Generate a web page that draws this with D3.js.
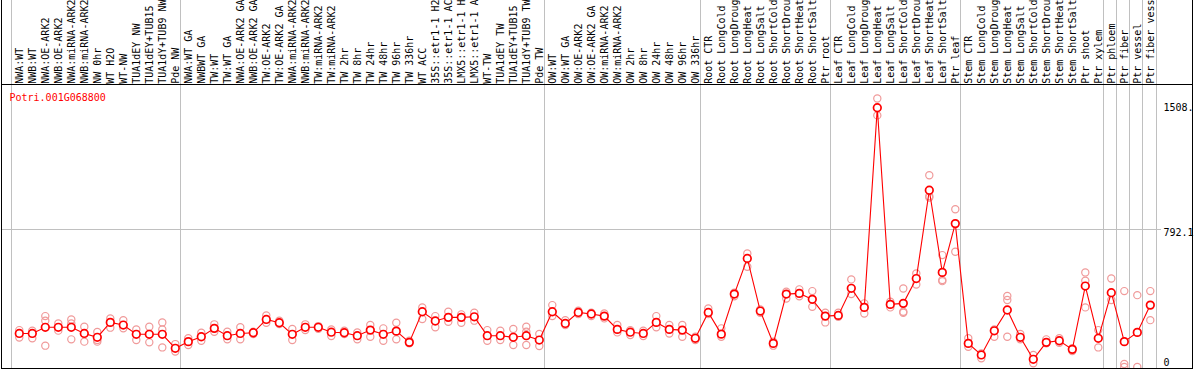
<!DOCTYPE html>
<html><head><meta charset="utf-8">
<script src="https://cdn.jsdelivr.net/npm/d3@7"></script>
<style>body{margin:0;background:#fff}svg{display:block}text{font-family:"DejaVu Sans Mono",monospace;font-size:10px}</style>
</head><body>
<svg id="c" width="1194" height="370"></svg>
<script>
const geneId = "Potri.001G068800";
const categories = [
"NWA:WT","NWB:WT","NWA:OE-ARK2","NWB:OE-ARK2","NWA:miRNA-ARK2","NWB:miRNA-ARK2","NW 0hr","WT H2O","WT-NW","TUA1dEY NW","TUA1dEY+TUB15","TUA1dY+TUB9 NW","Pde NW",
"NWA:WT GA","NWBWT GA","TW:WT","TW:WT GA","NWA:OE-ARK2 GA","NWB:OE-ARK2 GA","TW:OE-ARK2","TW:OE-ARK2 GA","NWA:miRNA-ARK2","NWB:miRNA-ARK2","TW:miRNA-ARK2","TW:miRNA-ARK2","TW 2hr","TW 8hr","TW 24hr","TW 48hr","TW 96hr","TW 336hr","WT ACC","35S::etr1-1 H2","35S::etr1-1 AC","LMX5::etr1-1 H","LMX5::etr1-1 A","WT-TW","TUA1dEY TW","TUA1dEY+TUB15","TUA1dY+TUB9 TW","Pde TW",
"OW:WT","OW:WT GA","OW:OE-ARK2","OW:OE-ARK2 GA","OW:miRNA-ARK2","OW:miRNA-ARK2","OW 2hr","OW 8hr","OW 24hr","OW 48hr","OW 96hr","OW 336hr",
"Root CTR","Root LongCold","Root LongDroug","Root LongHeat","Root LongSalt","Root ShortCold","Root ShortDrou","Root ShortHeat","Root ShortSalt","Ptr root",
"Leaf CTR","Leaf LongCold","Leaf LongDroug","Leaf LongHeat","Leaf LongSalt","Leaf ShortCold","Leaf ShortDrou","Leaf ShortHeat","Leaf ShortSalt","Ptr leaf",
"Stem CTR","Stem LongCold","Stem LongDroug","Stem LongHeat","Stem LongSalt","Stem ShortCold","Stem ShortDrou","Stem ShortHeat","Stem ShortSalt","Ptr shoot","Ptr xylem",
"Ptr phloem","Ptr fiber","Ptr vessel","Ptr fiber vess"];
const groupBreaks = [0,13,41,53,63,73,84,85,86,87,88];
const means = [192,192,227,227,227,192,170,255,240,187,187,187,107,
145,173,221,179,192,196,272,253,187,227,227,199,196,179,211,187,205,141,316,263,284,284,287,179,179,170,179,154,
316,249,312,303,291,215,199,192,255,215,211,164,
312,188,417,621,320,135,417,421,387,291,
295,450,341,1483,358,364,506,1011,541,820,
135,69,207,326,170,44,141,150,101,463,164,
425,145,198,354];
const repHigh = [211,208,291,249,272,230,200,278,268,215,230,255,131,
164,196,244,202,227,202,295,265,217,244,234,215,208,198,240,221,253,150,341,291,316,301,310,211,208,217,230,189,
354,268,322,310,306,240,211,208,291,240,240,173,
335,221,425,649,329,145,430,444,434,310,
310,501,364,1536,373,449,535,1097,640,902,
164,78,215,406,189,69,158,164,107,541,211,
506,434,411,434];
const repLow = [169,164,122,208,158,145,145,225,221,154,141,112,88,
126,150,202,158,158,189,253,246,154,211,219,177,189,158,173,150,158,135,274,227,259,253,265,150,154,126,126,120,
291,240,303,291,278,198,183,177,227,192,173,154,
303,173,405,573,310,122,392,405,345,255,
287,417,306,1439,341,316,472,969,491,659,
116,50,173,173,158,21,135,139,91,341,112,
383,17,0,268];
const repExtra = [null,null,265,null,249,null,154,null,null,null,null,215,null,
null,null,null,null,null,null,null,null,null,null,null,null,null,null,null,null,null,null,null,null,null,null,null,null,null,null,202,null,
null,null,null,null,null,null,null,null,null,null,null,null,
null,null,null,null,null,null,null,null,null,null,
null,null,null,null,null,310,null,977,497,null,
null,null,null,383,null,null,null,null,null,493,null,
null,0,null,null];
const tickValues = [0, 792.1, 1508];
const tickLabels = ["0", "792.1", "1508."];
const gridValues = [792.1];

const svg = d3.select("#c");
const xb = d3.scaleLinear().domain([0, 88]).range([10.5, 1155.5]);
const xp = d3.scaleLinear().domain([0, 87]).range([19.3, 1150.3]);
const y = d3.scaleLinear().domain([0, 792.1]).range([367, 228.5]);

svg.append("g").selectAll("line").data(groupBreaks).join("line")
  .attr("x1", d => Math.round(xb(d)) + 0.5).attr("x2", d => Math.round(xb(d)) + 0.5)
  .attr("y1", 0).attr("y2", 369)
  .attr("stroke", "#c0c0c0").attr("stroke-width", 1);
svg.append("g").selectAll("line").data(gridValues).join("line")
  .attr("x1", 1.5).attr("x2", 1161)
  .attr("y1", d => Math.round(y(d)) + 0.5).attr("y2", d => Math.round(y(d)) + 0.5)
  .attr("stroke", "#c0c0c0").attr("stroke-width", 1);

svg.append("line").attr("x1", 1.5).attr("x2", 1.5).attr("y1", 0).attr("y2", 369).attr("stroke", "#000");
svg.append("line").attr("x1", 1192.5).attr("x2", 1192.5).attr("y1", 0).attr("y2", 369).attr("stroke", "#000");
svg.append("line").attr("x1", 1).attr("x2", 1193).attr("y1", 84.5).attr("y2", 84.5).attr("stroke", "#000");
svg.append("line").attr("x1", 1).attr("x2", 1193).attr("y1", 368.5).attr("y2", 368.5).attr("stroke", "#000");

svg.append("g").selectAll("text").data(categories).join("text")
  .attr("transform", (d, i) => `translate(${xp(i) + 3.5},83.8) rotate(-90)`)
  .attr("fill", "#000")
  .text(d => d);

svg.append("text").attr("x", 9.5).attr("y", 100.5).attr("fill", "#ff0000").text(geneId);

svg.append("defs").append("clipPath").attr("id", "pc").append("rect")
  .attr("x", 2).attr("y", 85).attr("width", 1190).attr("height", 283);
const plot = svg.append("g").attr("clip-path", "url(#pc)");

const reps = [];
[repHigh, repLow, repExtra].forEach(arr => arr.forEach((v, i) => { if (v !== null) reps.push({i, v}); }));
plot.append("g").selectAll("circle").data(reps).join("circle")
  .attr("cx", d => xp(d.i)).attr("cy", d => y(d.v)).attr("r", 3.6)
  .attr("fill", "none").attr("stroke", "#f09a9a").attr("stroke-width", 1.2);

plot.append("path").datum(means)
  .attr("d", d3.line().x((d, i) => xp(i)).y(d => y(d)))
  .attr("fill", "none").attr("stroke", "#ff0000").attr("stroke-width", 1.1);

plot.append("g").selectAll("circle").data(means).join("circle")
  .attr("cx", (d, i) => xp(i)).attr("cy", d => y(d)).attr("r", 3.8)
  .attr("fill", "#fff").attr("stroke", "#ff0000").attr("stroke-width", 1.7);

svg.append("g").selectAll("text").data(tickValues).join("text")
  .attr("x", 1163.5)
  .attr("y", d => Math.min(y(d) + 7.5, 366))
  .attr("fill", "#000")
  .text((d, i) => tickLabels[i]);
</script>
</body></html>
